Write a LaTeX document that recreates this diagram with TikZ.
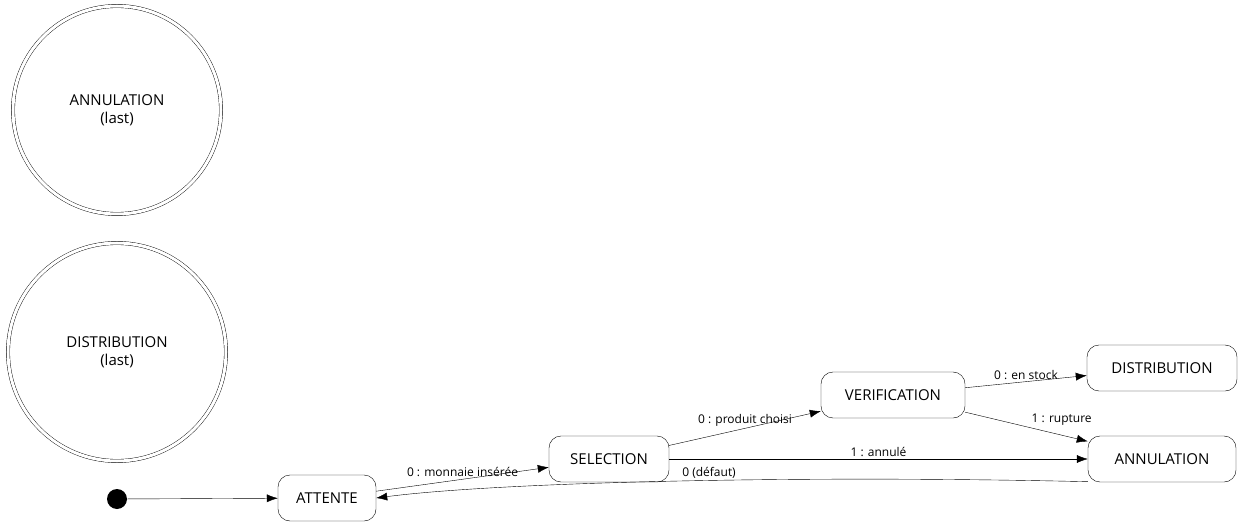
\documentclass[tikz,border=0pt]{standalone}
\usepackage{fontspec}
\setmainfont{Open Sans}
\usetikzlibrary{arrows.meta,positioning,shapes}

\begin{document}
\begin{tikzpicture}[
  x=1pt, y=-1pt,
  >={Latex[length=11pt,width=8pt]},
  state/.style={draw,rounded corners=12pt,minimum height=46pt,font=\fontsize{15}{17}\selectfont,inner sep=0pt},
  final/.style={draw,circle,double,double distance=3pt,align=center,font=\fontsize{15}{18}\selectfont,inner sep=0pt},
  lab/.style={font=\fontsize{12}{14}\selectfont,inner sep=1pt},
  ]
  \useasboundingbox (0,0) rectangle (1244,529);
  \node[final, minimum size=208pt] (AnnLast) at (117,110) {ANNULATION\\(last)};
  \node[final, minimum size=218pt] (DistLast) at (117,352) {DISTRIBUTION\\(last)};
  \node[circle, fill, minimum size=20pt, inner sep=0pt] (Start) at (117,499) {};
  \node[state, minimum width=98pt] (Att) at (327,498) {ATTENTE};
  \node[state, minimum width=120pt] (Sel) at (609,459) {SELECTION};
  \node[state, minimum width=144pt] (Ver) at (893,395) {VERIFICATION};
  \node[state, minimum width=150pt] (Dist) at (1162,368) {DISTRIBUTION};
  \node[state, minimum width=148pt] (Ann) at (1162,459) {ANNULATION};

  \draw [->] (Start) -- (Att);
  \draw [->] (Att) -- node[lab, above=1pt] {0 : monnaie insérée} (Sel);
  \draw [->] (Sel) -- node[lab, above=1pt] {0 : produit choisi} (Ver);
  \draw [->] (Ver) -- node[lab, above=1pt] {0 : en stock} (Dist);
  \draw [->] (Ver) -- node[lab, above right=0pt and 4pt] {1 : rupture} (Ann);
  \draw [->] (Sel) -- node[lab, above=1pt] {1 : annulé} (Ann);
  \draw [->] (Ann.197) .. controls (800,475) and (500,482) .. node[lab, above=1pt, pos=0.45] {0 (défaut)} (Att.east);
\end{tikzpicture}
\end{document}
